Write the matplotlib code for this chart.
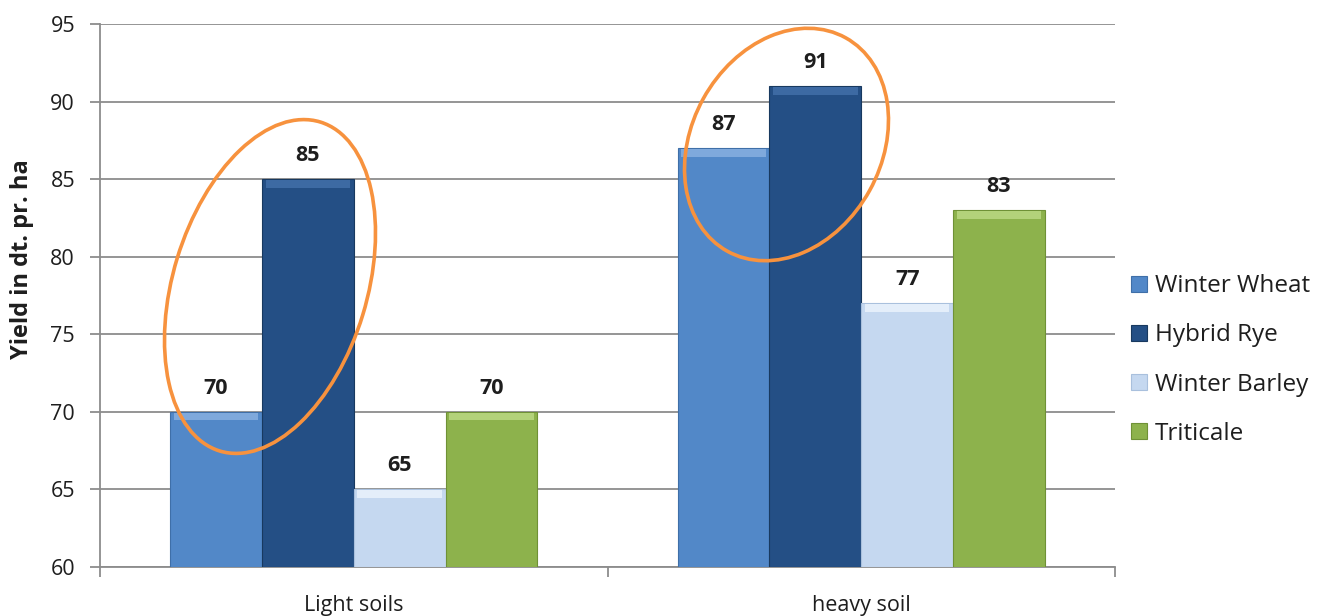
import matplotlib
matplotlib.use("Agg")
import matplotlib.pyplot as plt
import numpy as np
from matplotlib.patches import Ellipse, Patch

# Yield data (dt per ha) by soil type and crop
soil_types = ["Light soils", "heavy soil"]
crops = ["Winter Wheat", "Hybrid Rye", "Winter Barley", "Triticale"]
winter_wheat = [70, 87]
hybrid_rye = [85, 91]
winter_barley = [65, 77]
triticale = [70, 83]
series = [winter_wheat, hybrid_rye, winter_barley, triticale]

colors = ["#5288C8", "#244F85", "#C5D8F0", "#8DB24C"]
highlights = ["#7FA9DC", "#3D6AA3", "#E4EEFA", "#B3D27A"]
edge_dark = ["#3F6FA8", "#18395F", "#A9C0DD", "#6F9136"]

plt.rcParams["font.family"] = ["Open Sans", "DejaVu Sans"]
text_color = "#1E1E1E"
grid_color = "#8C8C8C"

fig = plt.figure(figsize=(13.42, 6.16), dpi=100)
ax = fig.add_axes([100 / 1342, 1 - 567 / 616, (1115 - 100) / 1342, (567 - 24) / 616])

ymin, ymax = 60, 95
ax.set_ylim(ymin, ymax)
ax.set_xlim(-0.5, 1.5)

width = 0.181
x = np.arange(len(soil_types))
offsets = (np.arange(len(crops)) - 1.5) * width

for i, (vals, col) in enumerate(zip(series, colors)):
    xs = x + offsets[i]
    ax.bar(xs, np.array(vals) - ymin, width=width, bottom=ymin, color=col,
           edgecolor=edge_dark[i], linewidth=0.8, zorder=3, label=crops[i])
    # bevelled top strip
    bev = 0.5
    ax.bar(xs, [bev] * len(vals), width=width * 0.92,
           bottom=np.array(vals) - bev - 0.05, color=highlights[i], linewidth=0, zorder=4)
    for xv, v in zip(xs, vals):
        ax.annotate(f"{v}", (xv, v), xytext=(0, 13), textcoords="offset points",
                    ha="center", va="baseline", fontsize=15.5, fontweight="bold",
                    color=text_color, zorder=6)

# gridlines and axes styling
ax.set_yticks(np.arange(60, 96, 5))
ax.yaxis.grid(True, color=grid_color, linewidth=1.3, zorder=0)
ax.set_axisbelow(True)
for s in ["top", "right"]:
    ax.spines[s].set_visible(False)
for s in ["left", "bottom"]:
    ax.spines[s].set_color(grid_color)
    ax.spines[s].set_linewidth(1.3)
ax.tick_params(axis="y", length=7, width=1.3, color=grid_color,
               labelsize=15.5, labelcolor=text_color, pad=11)

ax.set_xticks([-0.5, 0.5, 1.5])
ax.set_xticklabels([])
ax.tick_params(axis="x", which="major", length=7, width=1.3, color=grid_color)
ax.set_xticks(x, minor=True)
ax.set_xticklabels(soil_types, minor=True)
ax.tick_params(axis="x", which="minor", length=0, labelsize=15.5,
               labelcolor=text_color, pad=20)

fig.text(22 / 1342, 1 - 259 / 616, "Yield in dt. pr. ha", rotation=90,
         ha="center", va="center", fontsize=17, fontweight="bold", color=text_color)

# highlight rings around the wheat / rye pairs
ring_kw = dict(fill=False, edgecolor="#F7923E", linewidth=2.6, zorder=7,
               transform=fig.dpi_scale_trans)
fig.patches.append(Ellipse((2.70, (616 - 286.5) / 100), 1.94, 3.44, angle=-17, **ring_kw))
fig.patches.append(Ellipse((7.865, (616 - 144.5) / 100), 1.90, 2.44, angle=-29, **ring_kw))

handles = [Patch(facecolor=c, edgecolor=e, linewidth=0.8) for c, e in zip(colors, edge_dark)]
fig.legend(handles, crops, loc="center left",
           bbox_to_anchor=(1109 / 1342, 1 - 360 / 616), frameon=False,
           fontsize=17.5, handlelength=0.65, handleheight=0.65, handletextpad=0.35,
           labelspacing=1.03, labelcolor=text_color)

fig.savefig("out.png", dpi=100)
